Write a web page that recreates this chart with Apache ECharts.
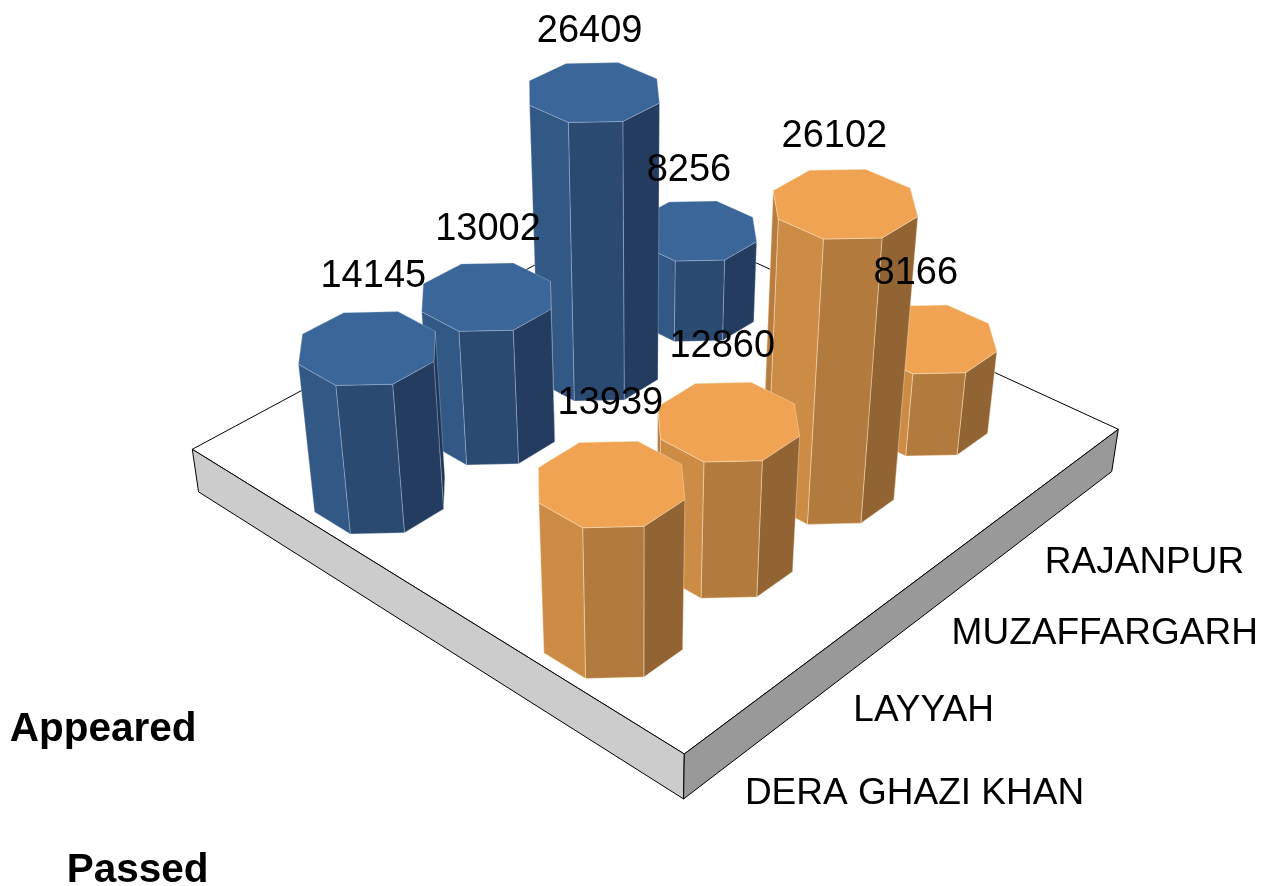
<!DOCTYPE html>
<html>
<head>
<meta charset="utf-8">
<style>
  html, body { margin: 0; padding: 0; background: #fff; }
  #main { width: 1274px; height: 886px; }
</style>
<script src="https://cdn.jsdelivr.net/npm/echarts@6/dist/echarts.min.js"></script>
</head>
<body>
<div id="main"></div>
<script>
const districts = ['DERA GHAZI KHAN', 'LAYYAH', 'MUZAFFARGARH', 'RAJANPUR'];
const rows = ['Appeared', 'Passed'];
const appeared = [14145, 13002, 26409, 8256];
const passed = [13939, 12860, 26102, 8166];

const yMax = 30000;
const FONT = '"Liberation Sans", Arial, sans-serif';

// floor corners on screen: (u0,v0) (u1,v0) (u1,v1) (u0,v1)
const floorQuad = [[192.3, 449.3], [639, 209], [1118.3, 429.3], [684.3, 754]];
const vanish = [640, 3500]; // where the vertical edges meet
const heightK = 3.78e-6;
const slabDepth = 4400; // value units below the floor
const barR = 0.102;
const uStart = -0.0015, uSpan = 0.934, vStart = 0.06, vSpan = 0.94;
// [dx, dy] from the floor edge to each district label
const districtNudge = [[-2.5, 87], [-11.8, 92], [-21.3, 96], [-27, 99]];
// [dx, dy] for the value labels, by row then district
const valueNudge = [
  [[-5, 7], [-3, 9], [-6, 21], [-4, 11]],
  [[0, 1], [0, 4], [9, 18], [-5, 8]]
];

const palette = [
  { top: '#3B6699', left: '#325885', mid: '#2B4A72', right: '#243C60', back: '#365E8E', far: '#1F3554', edge: 'rgba(200,215,235,0.45)' },
  { top: '#F0A352', left: '#CC8C46', mid: '#B37A3D', right: '#926433', back: '#B87D3E', far: '#80572B', edge: 'rgba(255,235,210,0.6)' }
];

// square to quad homography
const H = (function () {
  const [p0, p1, p2, p3] = floorQuad;
  const dx1 = p1[0] - p2[0], dx2 = p3[0] - p2[0], sx = p0[0] - p1[0] + p2[0] - p3[0];
  const dy1 = p1[1] - p2[1], dy2 = p3[1] - p2[1], sy = p0[1] - p1[1] + p2[1] - p3[1];
  const den = dx1 * dy2 - dx2 * dy1;
  const g = (sx * dy2 - dx2 * sy) / den;
  const h = (dx1 * sy - sx * dy1) / den;
  return {
    a: p1[0] - p0[0] + g * p1[0], b: p3[0] - p0[0] + h * p3[0], c: p0[0],
    d: p1[1] - p0[1] + g * p1[1], e: p3[1] - p0[1] + h * p3[1], f: p0[1],
    g: g, h: h, n: h + 1
  };
})();

function project(u, v, val) {
  const w = H.g * u + H.h * v + 1;
  const fx = (H.a * u + H.b * v + H.c) / w;
  const fy = (H.d * u + H.e * v + H.f) / w;
  const t = val * heightK;
  const W = w / H.n;
  return [(W * fx - t * vanish[0]) / (W - t), (W * fy - t * vanish[1]) / (W - t)];
}

// pixel from the hidden axes back to 0..1 across the band and to a value
function fromAxes(api, params, i, val) {
  const cs = params.coordSys;
  const pt = api.coord([i, val]);
  return { band: (pt[0] - cs.x) / cs.width, h: (cs.y + cs.height - pt[1]) / cs.height * yMax };
}

function poly(points, fill, stroke, z2, lw) {
  return { type: 'polygon', shape: { points: points }, z2: z2, style: { fill: fill, stroke: stroke, lineWidth: lw === undefined ? 0.7 : lw, lineJoin: 'round' } };
}

function label(text, x, y, size, align, weight) {
  return {
    type: 'text', z2: 1000,
    style: { text: text, x: x, y: y, fill: '#000', fontFamily: FONT, fontSize: size, fontWeight: weight || 'normal', align: align, verticalAlign: 'middle' }
  };
}

function renderFloor() {
  const d = -slabDepth;
  const c = [project(0, 0, 0), project(1, 0, 0), project(1, 1, 0), project(0, 1, 0)];
  const b = [project(0, 0, d), project(1, 0, d), project(1, 1, d), project(0, 1, d)];
  return {
    type: 'group',
    children: [
      poly(c, '#fff', '#000', 1, 1),
      poly([c[0], c[3], b[3], b[0]], '#CCCCCC', '#000', 2, 1),
      poly([c[3], c[2], b[2], b[3]], '#999999', '#000', 2, 1)
    ]
  };
}

function renderBar(params, api) {
  const idx = api.value(0), val = api.value(1), row = api.value(2);
  const pos = fromAxes(api, params, idx, val);
  const u = uStart + pos.band * uSpan;
  const h = pos.h;
  const v = vStart + (row + 0.5) / rows.length * vSpan;
  const col = palette[row];
  const z = (params.dataIndex + 1) * 10;
  const top = [], base = [];
  for (let k = 0; k < 8; k++) {
    const a = (22.5 + 45 * k) * Math.PI / 180;
    const du = barR * Math.cos(a), dv = barR * Math.sin(a);
    top.push(project(u + du, v + dv, h));
    base.push(project(u + du, v + dv, 0));
  }
  // face k joins vertex k and k+1, its normal points at 45*(k+1) degrees in the floor plane
  const faceFill = [col.far, col.right, col.mid, col.left, col.back, col.back, col.back, col.far];
  const children = [];
  for (let k = 0; k < 8; k++) {
    const n = (k + 1) % 8;
    const ax = top[n][0] - top[k][0], ay = top[n][1] - top[k][1];
    const bx = base[k][0] - top[k][0], by = base[k][1] - top[k][1];
    if (ax * by - ay * bx >= 0) continue; // faces away
    children.push(poly([top[k], top[n], base[n], base[k]], faceFill[k], col.edge, z));
  }
  children.push(poly(top, col.top, col.edge, z + 1));
  const nudge = valueNudge[row][idx];
  const tx = project(u, v, 0)[0] - 2 + nudge[0];
  const ty = project(u, v, h + 7000)[1] + nudge[1];
  children.push(label(String(val), tx, ty, 38, 'center'));
  return { type: 'group', children: children };
}

function renderDistrict(params, api) {
  const i = api.value(0);
  const p = project(fromAxes(api, params, i, 0).band, 1, 0);
  return label(districts[i], p[0] + districtNudge[i][0], p[1] + districtNudge[i][1], 37, 'left');
}

function renderRow(params, api) {
  const r = api.value(0);
  const v = (r + 0.5) / rows.length;
  return label(rows[r], 196.5 + (v - 0.25) * 24, 730 + (v - 0.25) * 282, 40.5, 'right', 'bold');
}

// back to front so nearer bars cover farther ones
const barData = [];
for (let i = districts.length - 1; i >= 0; i--) {
  barData.push([i, appeared[i], 0]);
  barData.push([i, passed[i], 1]);
}

const chart = echarts.init(document.getElementById('main'), null, { renderer: 'canvas' });
chart.setOption({
  backgroundColor: '#fff',
  animation: false,
  grid: { left: 0, right: 0, top: 0, bottom: 0 },
  xAxis: { type: 'category', data: districts, show: false },
  yAxis: { type: 'value', min: 0, max: yMax, show: false },
  series: [
    { type: 'custom', z: 1, silent: true, clip: false, data: [[0, 0]], encode: { x: 0, y: 1 }, renderItem: renderFloor },
    { type: 'custom', z: 2, silent: true, clip: false, data: barData, encode: { x: 0, y: 1 }, renderItem: renderBar },
    { type: 'custom', z: 3, silent: true, clip: false, data: districts.map((d, i) => [i, 0]), encode: { x: 0, y: 1 }, renderItem: renderDistrict },
    { type: 'custom', z: 3, silent: true, clip: false, data: rows.map((r, i) => [i, 0]), encode: { x: 0, y: 1 }, renderItem: renderRow }
  ]
});
window.addEventListener('resize', () => chart.resize());
</script>
</body>
</html>
